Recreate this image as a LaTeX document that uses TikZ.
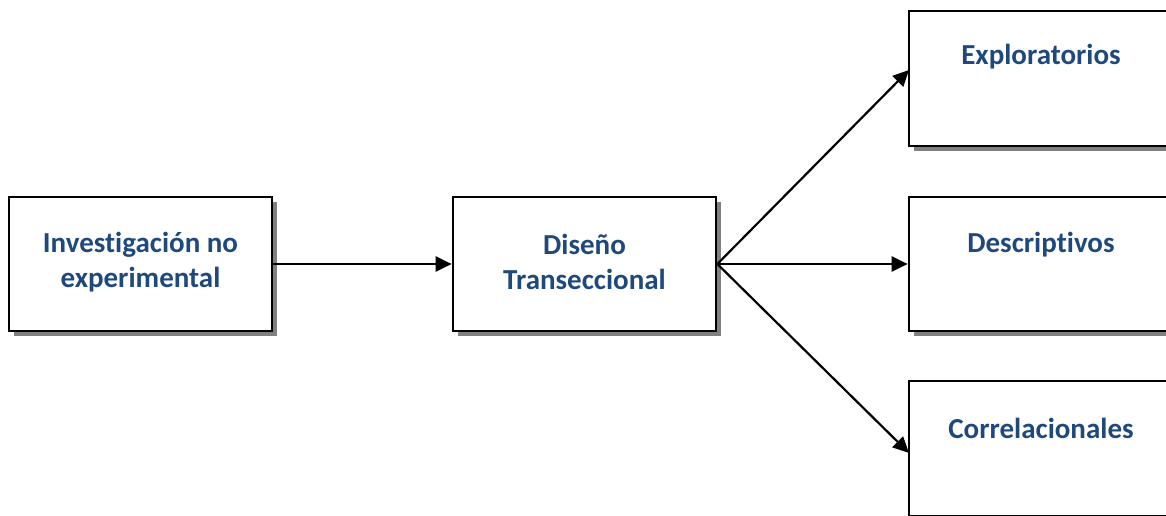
\documentclass[tikz,border=0pt]{standalone}
\usepackage{fontspec}
\setmainfont{Carlito}[Ligatures=NoCommon]
\usetikzlibrary{arrows.meta,shadows,positioning}
\definecolor{labelblue}{RGB}{31,73,125}
\definecolor{shadowgray}{RGB}{128,128,128}
\tikzset{
  box/.style={draw=black, line width=2.7pt, fill=white, rectangle,
    minimum width=263pt, minimum height=134pt, inner sep=0pt,
    drop shadow={shadow xshift=5pt, shadow yshift=-5pt, fill=shadowgray, opacity=1}},
  label/.style={text=labelblue, font=\fontsize{29}{35}\selectfont\bfseries, align=center, inner sep=0pt},
  link/.style={line width=2.2pt, -{Triangle[length=16pt,width=15pt]}}
}
\begin{document}
\begin{tikzpicture}[x=1pt, y=-1pt]
  \useasboundingbox (0,0) rectangle (1166,515);
  \clip (0,0) rectangle (1166,515);
  % boxes
  \node[box] (inv) at (140.5,264) {};
  \node[box] (dis) at (584.5,264) {};
  \node[box, minimum width=264pt, minimum height=135pt] (exp) at (1041,78.5) {};
  \node[box, minimum width=264pt] (des) at (1041,264) {};
  \node[box, minimum width=264pt, minimum height=135pt] (cor) at (1041,448.5) {};
  % labels
  \node[label] (tinv) at (140.5,262) {Investigación no\\experimental};
  \node[label] (tdis) at (584.5,262) {Diseño\\Transeccional};
  \node[label] (texp) at (1041,57) {Exploratorios};
  \node[label] (tdes) at (1041,245) {Descriptivos};
  \node[label] (tcor) at (1041,428) {Correlacionales};
  % arrow targets on the left sides of the upper and lower boxes
  \coordinate (expin) at (909,70);
  \coordinate (corin) at (909,453);
  % connectors
  \draw[link] (inv.east) -- (dis.west);
  \draw[link] (dis.east) -- (expin);
  \draw[link] (dis.east) -- (des.west);
  \draw[link] (dis.east) -- (corin);
\end{tikzpicture}
\end{document}
